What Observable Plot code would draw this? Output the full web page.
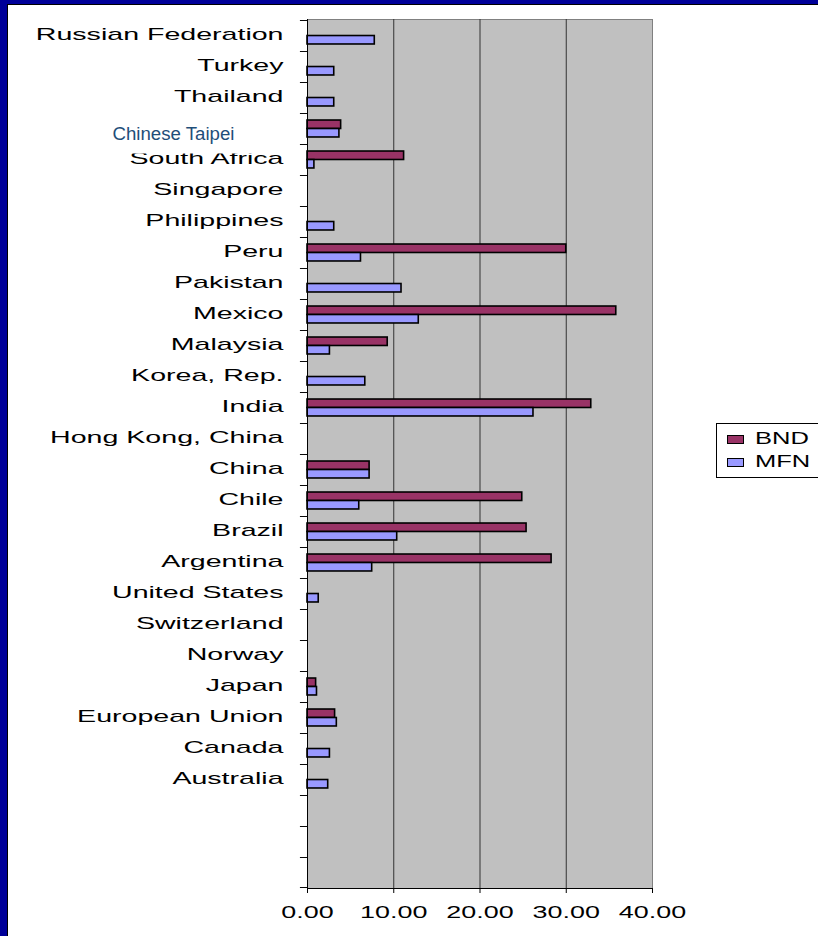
<!DOCTYPE html>
<html>
<head>
<meta charset="utf-8">
<script src="https://cdn.jsdelivr.net/npm/d3@7"></script>
<script src="https://cdn.jsdelivr.net/npm/@observablehq/plot@0.6"></script>
<style>
  html, body { margin: 0; padding: 0; }
  body { width: 818px; height: 936px; overflow: hidden; position: relative; background: #000099; font-family: "Liberation Sans", Arial, sans-serif; }
  #sheet { position: absolute; left: 7px; top: 4px; right: 0; bottom: 0; background: #fff; border-left: 1px solid #000; border-top: 1px solid #000; }
  #chart { position: absolute; left: 0; top: 0; }
  #legend { position: absolute; left: 716px; top: 423px; width: 130px; height: 55px; background: #fff; border: 1px solid #000; box-sizing: border-box; }
  .item { position: absolute; left: 10px; height: 20px; display: flex; align-items: center; }
  .sw { width: 15px; height: 7px; border: 1px solid #000; margin-right: 11px; }
  .lt { font-size: 17px; display: inline-block; transform: scaleX(1.5); transform-origin: left center; color: #000; }
</style>
</head>
<body>
<div id="sheet"></div>
<div id="chart"></div>
<div id="legend"></div>
<script>
// Categories, top to bottom
const countries = ["Russian Federation","Turkey","Thailand","Chinese Taipei","South Africa","Singapore","Philippines","Peru","Pakistan","Mexico","Malaysia","Korea, Rep.","India","Hong Kong, China","China","Chile","Brazil","Argentina","United States","Switzerland","Norway","Japan","European Union","Canada","Australia"];
// three empty category slots below Australia
const blanks = ["", " ", "  "];
const bnd = [null,null,null,3.9,11.2,null,null,30.0,null,35.8,9.3,null,32.9,null,7.2,24.9,25.4,28.3,null,null,null,1.0,3.2,null,null];
const mfn = [7.8,3.1,3.1,3.7,0.8,null,3.1,6.2,10.9,12.9,2.6,6.7,26.2,null,7.2,6.0,10.4,7.5,1.3,null,null,1.1,3.4,2.6,2.4];
const xTicks = [0, 10, 20, 30, 40];
const gridValues = [10, 20, 30];
const seriesNames = ["BND", "MFN"];
const seriesColors = ["#993366", "#9999FF"];
const boxLabel = "Chinese Taipei";

const domainY = [...countries, ...blanks];
const bndData = countries.map((c, i) => ({country: c, value: bnd[i]})).filter(d => d.value != null);
const mfnData = countries.map((c, i) => ({country: c, value: mfn[i]})).filter(d => d.value != null);

const W = 818, H = 936, mT = 19, mB = 48, mL = 307, mR = 166;
const bw = (H - mT - mB) / domainY.length;
const barH = 8.5, outer = (bw - 2 * barH) / 2;

const chart = Plot.plot({
  width: W, height: H,
  marginTop: mT, marginBottom: mB, marginLeft: mL, marginRight: mR,
  style: {background: "transparent", fontFamily: "Liberation Sans, Arial, sans-serif", fontSize: "17px", overflow: "visible"},
  x: {domain: [0, 40]},
  y: {type: "band", domain: domainY, padding: 0, axis: null},
  marks: [
    Plot.frame({fill: "#C0C0C0", stroke: "#808080"}),
    Plot.ruleX(gridValues, {stroke: "#333", strokeWidth: 1}),
    // category boundary ticks (top of each band, and bottom of last)
    Plot.barX(domainY, {y: d => d, x1: -0.82, x2: 0, fill: "#000", insetTop: 0, insetBottom: bw - 1}),
    Plot.barX(blanks.slice(-1), {y: d => d, x1: -0.82, x2: 0, fill: "#000", insetTop: bw - 1, insetBottom: 0}),
    Plot.barX(bndData, {y: "country", x: "value", fill: seriesColors[0], stroke: "#000", strokeWidth: 1.6, insetTop: outer, insetBottom: bw - outer - barH}),
    Plot.barX(mfnData, {y: "country", x: "value", fill: seriesColors[1], stroke: "#000", strokeWidth: 1.6, insetTop: outer + barH, insetBottom: outer}),
    Plot.frame({anchor: "left", stroke: "#000"}),
    Plot.frame({anchor: "bottom", stroke: "#000"}),
    Plot.axisX({ticks: xTicks, tickFormat: d => d.toFixed(2), tickSize: 5, tickPadding: 13, fontSize: 16, label: null, stroke: "#000", fill: "#000"}),
    Plot.text(countries.filter(c => c !== boxLabel), {y: d => d, x: 0, dx: -24, dy: -1, text: d => d, textAnchor: "end", fontSize: 17, fill: "#000"}),
    // white text box of the overlaid "Chinese Taipei" label (it hides the top of the next label)
    Plot.barX([boxLabel], {y: d => d, x1: -23, x2: -2.3, fill: "#fff", insetTop: 8, insetBottom: -9.5}),
    Plot.text([boxLabel], {y: d => d, x: 0, dx: -73, dy: 5, text: d => d, textAnchor: "end", fontSize: 17, fill: "#1F4E79"})
  ]
});

document.getElementById("chart").appendChild(chart);

// horizontally stretch the labels, like the original chart (position untouched)
function stretch(svg, sx, keep) {
  svg.querySelectorAll("text").forEach(t => {
    if (!keep(t)) return;
    const len = t.getComputedTextLength();
    if (len > 0) {
      t.setAttribute("textLength", (len * sx).toFixed(1));
      t.setAttribute("lengthAdjust", "spacingAndGlyphs");
    }
  });
}
stretch(chart, 1.68, t => t.textContent !== boxLabel);
chart.querySelectorAll("text").forEach(t => {
  if (t.textContent === boxLabel) {
    t.style.fontSize = "17.5px";
    t.setAttribute("textLength", "122");
    t.setAttribute("lengthAdjust", "spacingAndGlyphs");
  }
});

// legend
const legend = document.getElementById("legend");
seriesNames.forEach((name, i) => {
  const item = document.createElement("div");
  item.className = "item";
  item.style.top = (5 + i * 23) + "px";
  const sw = document.createElement("div");
  sw.className = "sw";
  sw.style.background = seriesColors[i];
  const lt = document.createElement("span");
  lt.className = "lt";
  lt.textContent = name;
  item.appendChild(sw); item.appendChild(lt);
  legend.appendChild(item);
});
</script>
</body>
</html>
